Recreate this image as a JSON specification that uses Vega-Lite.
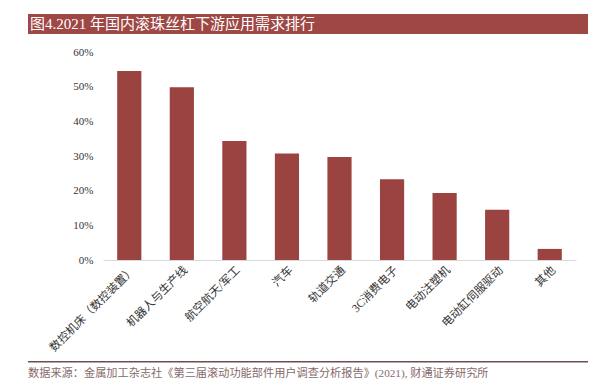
{
  "$schema": "https://vega.github.io/schema/vega-lite/v6.json",
  "padding": {"left": 28, "top": 14, "right": 0, "bottom": 0},
  "background": "white",
  "config": {"view": {"stroke": null}},
  "spacing": 12,
  "vconcat": [
    {
      "width": 560,
      "height": 20,
      "data": {"values": [{"title": "图4.2021 年国内滚珠丝杠下游应用需求排行", "pos": 0}]},
      "layer": [
        {"mark": {"type": "rect", "color": "#9E4744"}, "encoding": {}},
        {
          "mark": {"type": "text", "align": "left", "dx": 2, "color": "white", "fontSize": 15, "font": "Liberation Serif, Noto Sans CJK SC"},
          "encoding": {
            "x": {"field": "pos", "type": "quantitative", "scale": {"domain": [0, 1]}, "axis": null},
            "text": {"field": "title"}
          }
        }
      ]
    },
    {
      "spacing": 7,
      "vconcat": [
        {
          "bounds": "flush",
          "spacing": 0,
          "hconcat": [
            {
              "width": 75,
              "height": 208,
              "data": {"values": [{"a": 1}]},
              "mark": {"type": "point", "opacity": 0},
              "encoding": {}
            },
            {
              "width": 473,
              "height": 208,
              "data": {"values": [
                {"category": "数控机床（数控装置）", "share": 0.545},
                {"category": "机器人与生产线", "share": 0.498},
                {"category": "航空航天/军工", "share": 0.343},
                {"category": "汽车", "share": 0.307},
                {"category": "轨道交通", "share": 0.297},
                {"category": "3C消费电子", "share": 0.233},
                {"category": "电动注塑机", "share": 0.193},
                {"category": "电动缸伺服驱动", "share": 0.145},
                {"category": "其他", "share": 0.032}
              ]},
              "mark": {"type": "bar", "color": "#9A4340"},
              "encoding": {
                "x": {
                  "field": "category", "type": "nominal", "sort": null,
                  "scale": {"paddingInner": 0.54, "paddingOuter": 0.27},
                  "axis": {"title": null, "labelAngle": -45, "ticks": false, "labelPadding": 4, "domainColor": "#d9d9d9", "labelFont": "Liberation Serif, Noto Sans CJK SC", "labelFontSize": 11.5, "labelColor": "#333333"}
                },
                "y": {
                  "field": "share", "type": "quantitative",
                  "scale": {"domain": [0, 0.6]},
                  "axis": {"title": null, "format": ".0%", "values": [0, 0.1, 0.2, 0.3, 0.4, 0.5, 0.6], "domain": false, "ticks": false, "grid": false, "labelPadding": 10, "labelFont": "Liberation Serif", "labelFontSize": 11, "labelColor": "#333333"}
                }
              }
            }
          ]
        },
        {
          "width": 560,
          "height": 1.5,
          "data": {"values": [{"a": 1}]},
          "mark": {"type": "rect", "color": "#6E4E4E"},
          "encoding": {},
          "title": {"text": "数据来源：金属加工杂志社《第三届滚动功能部件用户调查分析报告》(2021), 财通证券研究所", "orient": "bottom", "anchor": "start", "offset": 5, "fontSize": 11.2, "fontWeight": "normal", "color": "#86696A", "font": "Liberation Serif, Noto Sans CJK SC"}
        }
      ]
    }
  ]
}
